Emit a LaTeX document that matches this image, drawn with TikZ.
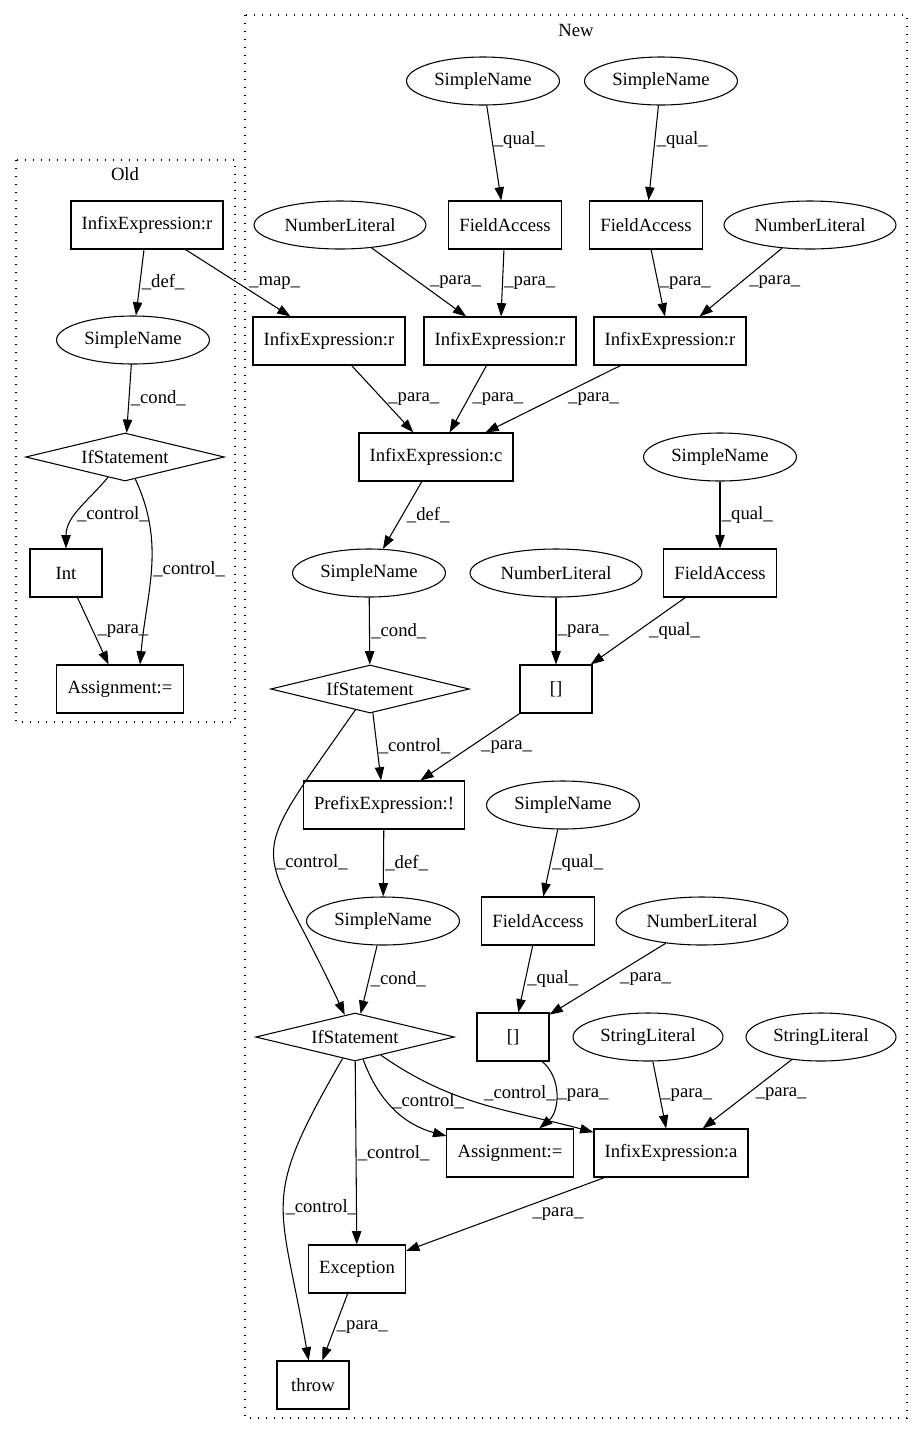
\documentclass[tikz,border=0pt]{standalone}
\usepackage{fontspec}
\setmainfont{Liberation Serif}
\usetikzlibrary{arrows.meta,shapes.geometric}

\begin{document}
\begin{tikzpicture}[x=0.75pt,y=-0.75pt,
  box/.style={draw,line width=0.8pt,minimum width=54pt,minimum height=36pt,inner xsep=8pt,font=\fontsize{14}{16}\selectfont},
  ell/.style={draw,ellipse,line width=0.8pt,minimum height=36pt,inner xsep=4pt,inner ysep=0pt,font=\fontsize{14}{16}\selectfont},
  cond/.style={draw,diamond,aspect=4,line width=0.8pt,minimum width=149pt,minimum height=36pt,inner sep=0pt,font=\fontsize{14}{16}\selectfont},
  conn/.style={-{Triangle[length=10pt,width=7pt]},line width=0.8pt},
  lbl/.style={anchor=west,inner sep=1pt,font=\fontsize{14}{16}\selectfont},
  cluster/.style={line width=1pt,dash pattern=on 1pt off 5pt}]
  \useasboundingbox (0,0) rectangle (923,1436);
  % Clusters
  \draw[cluster] (16,160) rectangle (235,722);
  \node[font=\fontsize{14}{16}\selectfont] (lOld) at (125,174) {Old};
  \draw[cluster] (245,15) rectangle (907,1418);
  \node[font=\fontsize{14}{16}\selectfont] (lNew) at (576,30) {New};
  % Old nodes
  \node[box] (oInfix) at (147,225) {InfixExpression:r};
  \node[ell] (oName) at (133,340) {SimpleName};
  \node[cond] (oIf) at (125,457) {IfStatement};
  \node[box] (oInt) at (66,573) {Int};
  \node[box] (oAssign) at (120,689) {Assignment:=};
  % New nodes
  \node[ell] (nName1) at (483,81) {SimpleName};
  \node[ell] (nName2) at (661,81) {SimpleName};
  \node[ell] (nNum1) at (340,225) {NumberLiteral};
  \node[box] (nField1) at (505,225) {FieldAccess};
  \node[box] (nField2) at (646,225) {FieldAccess};
  \node[ell] (nNum2) at (810,225) {NumberLiteral};
  \node[box] (nInfix1) at (329,341) {InfixExpression:r};
  \node[box] (nInfix2) at (500,341) {InfixExpression:r};
  \node[box] (nInfix3) at (670,341) {InfixExpression:r};
  \node[box] (nInfixC) at (436,457) {InfixExpression:c};
  \node[ell] (nName3) at (720,457) {SimpleName};
  \node[ell] (nName4) at (369,573) {SimpleName};
  \node[ell] (nNum3) at (556,573) {NumberLiteral};
  \node[box] (nField3) at (720,573) {FieldAccess};
  \node[cond] (nIf1) at (370,689) {IfStatement};
  \node[box] (nIdx1) at (556,689) {[]};
  \node[box] (nPrefix) at (384,805) {PrefixExpression:!};
  \node[ell] (nName5) at (563,805) {SimpleName};
  \node[ell] (nName6) at (383,921) {SimpleName};
  \node[box] (nField4) at (538,921) {FieldAccess};
  \node[ell] (nNum4) at (702,921) {NumberLiteral};
  \node[cond] (nIf2) at (355,1037) {IfStatement};
  \node[box] (nIdx2) at (513,1037) {[]};
  \node[ell] (nStr1) at (648,1037) {StringLiteral};
  \node[ell] (nStr2) at (821,1037) {StringLiteral};
  \node[box] (nAssign) at (510,1153) {Assignment:=};
  \node[box] (nInfixA) at (671,1153) {InfixExpression:a};
  \node[box] (nExc) at (357,1269) {Exception};
  \node[box] (nThrow) at (313,1385) {throw};
  % Old edges
  \draw[conn] (oInfix) -- (oName) node[lbl,midway] {\_def\_};
  \draw[conn] (oInfix) -- (nInfix1) node[lbl,midway,xshift=7pt] {\_map\_};
  \draw[conn] (oName) -- (oIf) node[lbl,midway] {\_cond\_};
  \draw[conn] (oIf) to[out=230,in=90] node[lbl,xshift=-3pt,yshift=-3pt] {\_control\_} (oInt);
  \draw[conn] (oIf) to[out=-65,in=85] node[lbl] {\_control\_} ([xshift=15pt]oAssign.north);
  \draw[conn] (oInt) -- (oAssign) node[lbl,midway,xshift=2pt] {\_para\_};
  % New edges, top part
  \draw[conn] (nName1) -- (nField1) node[lbl,pos=0.36] {\_qual\_};
  \draw[conn] (nName2) -- (nField2) node[lbl,pos=0.36] {\_qual\_};
  \draw[conn] (nNum1) -- (nInfix2) node[lbl,midway,xshift=7pt] {\_para\_};
  \draw[conn] (nField1) -- (nInfix2) node[lbl,midway] {\_para\_};
  \draw[conn] (nField2) -- (nInfix3) node[lbl,midway] {\_para\_};
  \draw[conn] (nNum2) -- (nInfix3) node[lbl,midway,xshift=5pt] {\_para\_};
  \draw[conn] (nInfix1) -- (nInfixC) node[lbl,midway,xshift=3pt] {\_para\_};
  \draw[conn] (nInfix2) -- (nInfixC) node[lbl,midway,xshift=2pt] {\_para\_};
  \draw[conn] (nInfix3) -- (nInfixC) node[lbl,midway,xshift=10pt] {\_para\_};
  \draw[conn] (nInfixC) -- (nName4) node[lbl,midway,xshift=2pt] {\_def\_};
  \draw[conn] (nName3) -- (nField3) node[lbl,midway] {\_qual\_};
  \draw[conn] (nName4) -- (nIf1) node[lbl,midway] {\_cond\_};
  \draw[conn] (nNum3) -- (nIdx1) node[lbl,midway] {\_para\_};
  \draw[conn] (nField3) -- (nIdx1) node[lbl,midway,xshift=7pt] {\_qual\_};
  \draw[conn] (nIf1) -- (nPrefix) node[lbl,midway] {\_control\_};
  \draw[conn] (nIdx1) -- (nPrefix) node[lbl,midway,xshift=7pt] {\_para\_};
  \draw[conn] (nIf1) to[out=235,in=115,looseness=1.7] node[lbl,yshift=-5pt] {\_control\_} (nIf2);
  % New edges, lower part
  \draw[conn] (nPrefix) -- (nName6) node[lbl,midway] {\_def\_};
  \draw[conn] (nName5) -- (nField4) node[lbl,midway] {\_qual\_};
  \draw[conn] (nName6) -- (nIf2) node[lbl,midway] {\_cond\_};
  \draw[conn] (nField4) -- (nIdx2) node[lbl,midway] {\_qual\_};
  \draw[conn] (nNum4) -- (nIdx2) node[lbl,midway,xshift=8pt] {\_para\_};
  \draw[conn] (nIf2) to[out=-70,in=165] node[lbl,xshift=-3pt,yshift=6pt] {\_control\_} (nAssign);
  \draw[conn] (nIf2) to[out=-35,in=165] node[lbl,yshift=8pt] {\_control\_} (nInfixA);
  \draw[conn] (nIdx2) to[out=-40,in=40] node[lbl] {\_para\_} (nAssign);
  \draw[conn] (nStr1) -- (nInfixA) node[lbl,midway] {\_para\_};
  \draw[conn] (nStr2) -- (nInfixA) node[lbl,midway,xshift=5pt] {\_para\_};
  \draw[conn] (nIf2) -- (nExc) node[lbl,midway] {\_control\_};
  \draw[conn] (nIf2) to[out=-120,in=100,looseness=1.4] node[lbl,yshift=-4pt] {\_control\_} (nThrow);
  \draw[conn] (nInfixA) -- (nExc) node[lbl,midway,xshift=19pt] {\_para\_};
  \draw[conn] (nExc) -- (nThrow) node[lbl,midway] {\_para\_};
\end{tikzpicture}
\end{document}
